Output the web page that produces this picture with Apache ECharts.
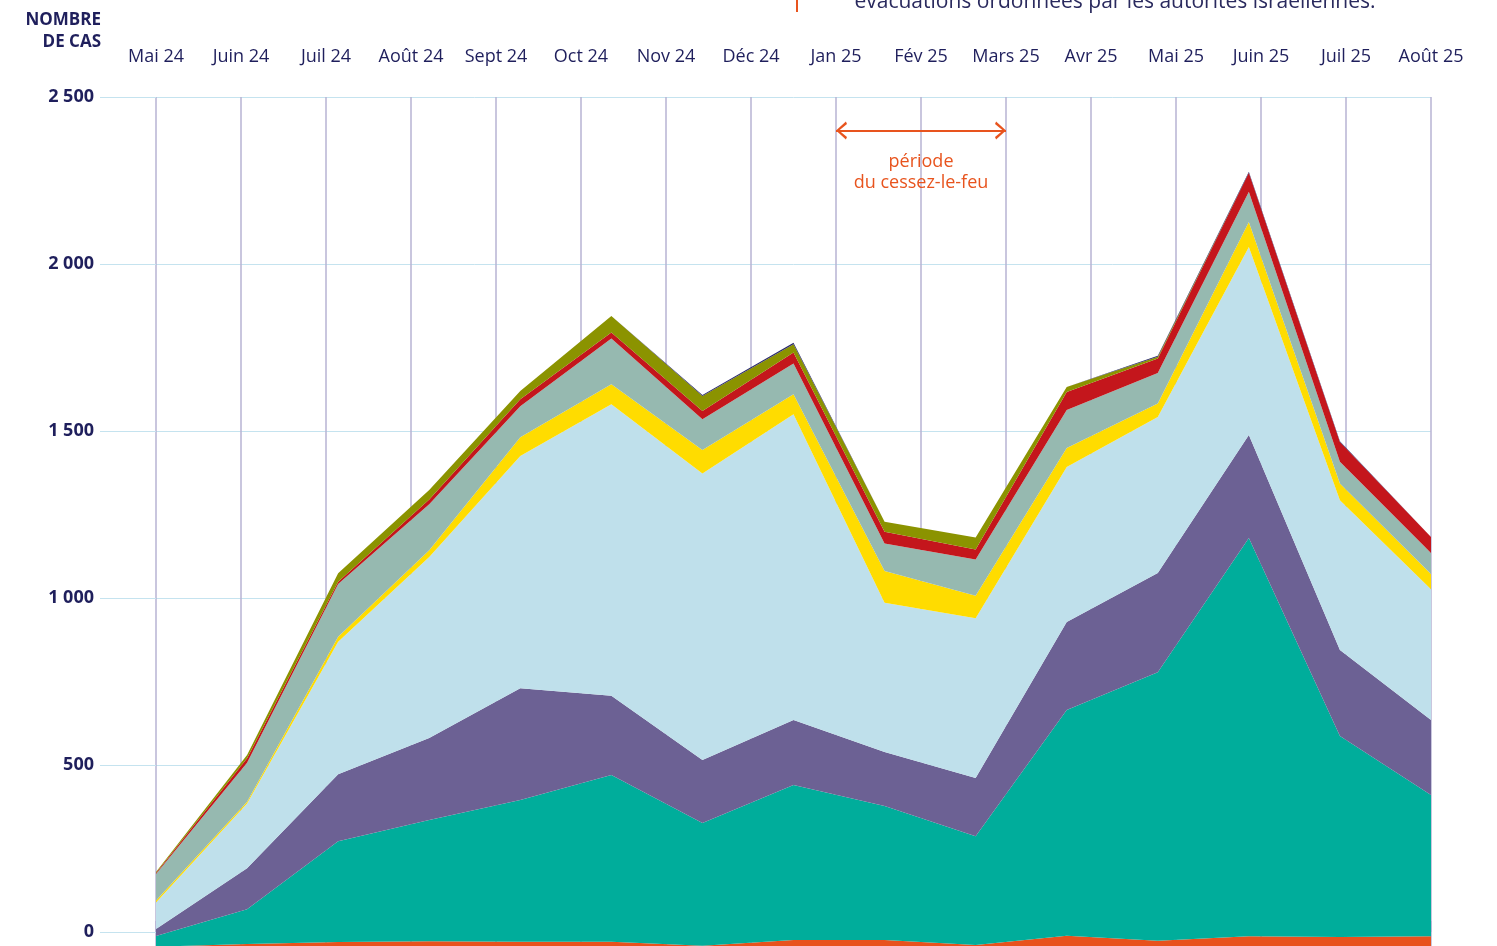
<!DOCTYPE html>
<html><head><meta charset="utf-8">
<script src="https://cdn.jsdelivr.net/npm/echarts@6/dist/echarts.min.js"></script>
<style>html,body{margin:0;padding:0;background:#fff;overflow:hidden}#c{width:1497px;height:946px}</style>
</head><body><div id="c"></div><script>
// Month labels (top axis, 16 gridlines)
const months = ['Mai 24','Juin 24','Juil 24','Août 24','Sept 24','Oct 24','Nov 24','Déc 24','Jan 25','Fév 25','Mars 25','Avr 25','Mai 25','Juin 25','Juil 25','Août 25'];
// The 15 data points are spread evenly across the same span
const points = ['1','2','3','4','5','6','7','8','9','10','11','12','13','14','15'];
// Stack in the original starts slightly below the labelled zero line
const stackBase = -80;

// Layer thicknesses, bottom to top
const orange    = [36, 44, 50, 52, 51, 51, 39, 56, 56, 41, 69, 54, 67, 65, 67];
const teal      = [32, 104, 302, 363, 424, 499, 367, 464, 401, 326, 676, 804, 1193, 602, 423];
const purple    = [21, 123, 200, 246, 335, 237, 189, 195, 162, 174, 263, 297, 308, 257, 225];
const lightBlue = [79, 194, 397, 542, 695, 873, 858, 915, 447, 478, 464, 467, 563, 449, 391];
const yellow    = [6, 5, 15, 20, 56, 60, 70, 60, 95, 68, 57, 40, 75, 50, 46];
const greyGreen = [80, 117, 158, 138, 93, 137, 92, 92, 82, 108, 114, 92, 90, 65, 63];
const red       = [3, 13, 7, 14, 21, 18, 25, 33, 35, 30, 54, 43, 57, 59, 48];
const olive     = [3, 10, 25, 28, 25, 49, 45, 25, 30, 36, 15, 5, 0, 0, 0];
const navy      = [0, 0, 0, 0, 0, 0, 3, 4, 0, 0, 0, 3, 3, 2, 0];

const ceasefire = { from: 'Jan 25', to: 'Mars 25', level: 2400, label: 'période\ndu cessez-le-feu' };

const layers = [
  ['orange', orange, '#e8521d'],
  ['teal', teal, '#00ad9b'],
  ['purple', purple, '#6c6194'],
  ['lightBlue', lightBlue, '#bfe0eb'],
  ['yellow', yellow, '#ffdc00'],
  ['greyGreen', greyGreen, '#96b9b0'],
  ['red', red, '#c4161c'],
  ['olive', olive, '#8b9300'],
  ['navy', navy, '#2b2a6b']
];

const navyText = '#1f1f5c';
const font = 'Open Sans';
const fmt = v => v < 0 ? '' : String(v).replace(/\B(?=(\d{3})+(?!\d))/g, ' ');
const chevron = 'path://M0,9 L5,0 L10,9 L8.6,10 L5,2.8 L1.4,10 Z';

const series = [{
  name: 'base', type: 'line', xAxisIndex: 1, stack: 'all', stackStrategy: 'all',
  data: points.map(() => stackBase), symbol: 'none', silent: true,
  lineStyle: { width: 0, opacity: 0 }
}];
layers.forEach(([name, data, color]) => {
  series.push({
    name, type: 'line', xAxisIndex: 1, stack: 'all', stackStrategy: 'all',
    data, symbol: 'none', silent: true,
    lineStyle: { width: 0, opacity: 0 },
    areaStyle: { color, opacity: 1 }
  });
});
series.push({
  name: 'annotation', type: 'line', xAxisIndex: 0, data: [], silent: true,
  markLine: {
    silent: true, animation: false,
    symbol: [chevron, chevron],
    symbolSize: [18, 11],
    symbolOffset: [[0, 5.5], [0, 5.5]],
    lineStyle: { color: '#e8541e', width: 2, type: 'solid' },
    itemStyle: { color: '#e8541e' },
    label: {
      show: true, position: 'insideMiddleBottom', distance: 21,
      formatter: ceasefire.label, color: '#e8541e', fontFamily: font, fontSize: 18, lineHeight: 21, align: 'center'
    },
    data: [[{ coord: [ceasefire.from, ceasefire.level] }, { coord: [ceasefire.to, ceasefire.level] }]]
  }
});

const chart = echarts.init(document.getElementById('c'), null, { renderer: 'canvas' });
chart.setOption({
  animation: false,
  backgroundColor: '#ffffff',
  grid: { left: 156, right: 66, top: 97, bottom: -153, containLabel: false, outerBoundsMode: 'none' },
  xAxis: [{
    type: 'category', data: months, position: 'top', boundaryGap: false,
    axisLine: { show: false },
    axisTick: { show: true, length: 11, inside: false, lineStyle: { color: '#b7b3d3', width: 1.5 } },
    axisLabel: { margin: 31, color: navyText, fontFamily: font, fontSize: 18, interval: 0 },
    splitLine: { show: true, lineStyle: { color: '#b7b3d3', width: 1.5 } }
  }, {
    type: 'category', data: points, boundaryGap: false, show: false, position: 'bottom'
  }],
  yAxis: {
    type: 'value', min: -500, max: 2500, interval: 500,
    axisLine: { show: false },
    axisTick: { show: true, length: 56, inside: false, lineStyle: { color: '#c5e3ef', width: 1 } },
    axisLabel: { margin: 62, formatter: fmt, color: navyText, fontFamily: font, fontWeight: 'bold', fontSize: 18 },
    splitLine: { show: true, lineStyle: { color: '#c5e3ef', width: 1 } }
  },
  graphic: [
    { type: 'text', right: 1497 - 101, top: 9, style: { text: 'NOMBRE\nDE CAS', fill: navyText, font: 'bold 17px "Open Sans"', textAlign: 'right', lineHeight: 22 } },
    { type: 'text', x: 1115, y: 2, style: { text: 'évacuations ordonnées par les autorités israéliennes.', fill: '#2a2a5e', font: '21px "Open Sans"', textAlign: 'center', textVerticalAlign: 'middle' } },
    { type: 'line', shape: { x1: 797, y1: 0, x2: 797, y2: 12 }, style: { stroke: '#e8541e', lineWidth: 2 } }
  ],
  series
});
</script></body></html>
